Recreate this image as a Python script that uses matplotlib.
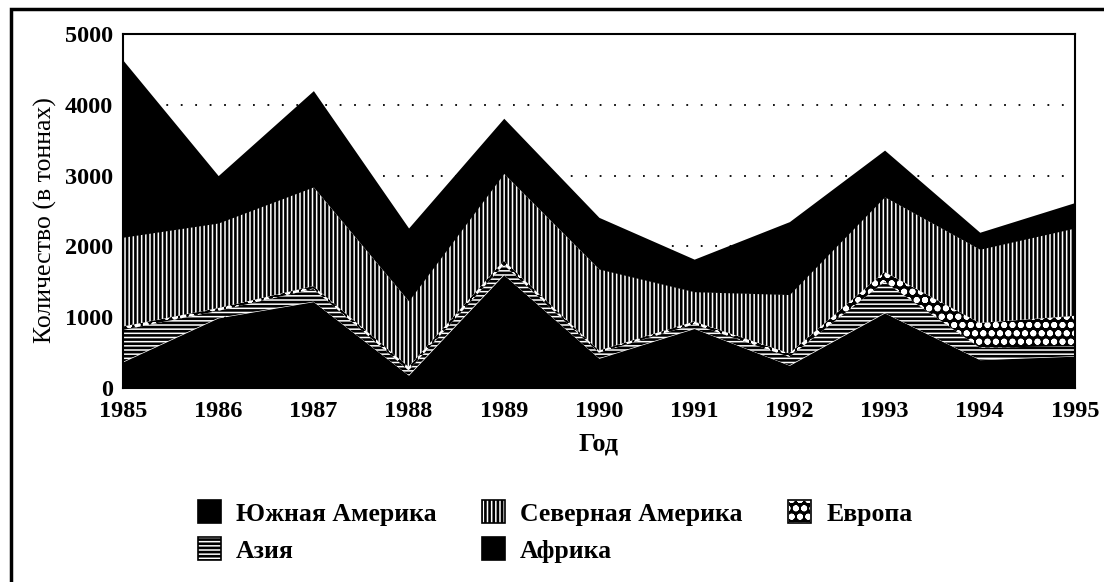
import matplotlib.pyplot as plt
import matplotlib.patches as mpatches
import numpy as np

plt.rcParams['font.family'] = ['Liberation Serif', 'DejaVu Serif']
plt.rcParams['hatch.linewidth'] = 1.9

years = [1985, 1986, 1987, 1988, 1989, 1990, 1991, 1992, 1993, 1994, 1995]
africa = [370, 990, 1220, 180, 1600, 420, 840, 320, 1060, 400, 450]
asia = [450, 100, 180, 70, 140, 80, 60, 120, 440, 170, 140]
europe = [50, 40, 40, 50, 60, 30, 40, 50, 140, 350, 430]
north_america = [1260, 1200, 1400, 930, 1230, 1150, 420, 830, 1060, 1040, 1240]
south_america = [2500, 670, 1360, 1030, 780, 730, 460, 1030, 660, 240, 360]

labels = ["Африка", "Азия", "Европа", "Северная Америка", "Южная Америка"]
faces = ["black", "white", "black", "white", "black"]
edges = ["black", "black", "white", "black", "black"]
hatches = [None, "----", "oo", "||||", None]

fig = plt.figure(figsize=(11.04, 5.82), dpi=100)
ax = fig.add_axes([0.1114, 0.3333, 0.8623, 0.6083])

polys = ax.stackplot(years, africa, asia, europe, north_america, south_america,
                     labels=labels, zorder=2)
for p, fc, ec, h in zip(polys, faces, edges, hatches):
    p.set_facecolor(fc)
    p.set_edgecolor(ec)
    p.set_linewidth(0)
    if h:
        p.set_hatch(h)

ax.set_xlim(1985, 1995)
ax.set_ylim(0, 5000)
ax.set_xticks(years)
ax.set_yticks([0, 1000, 2000, 3000, 4000, 5000])
ax.yaxis.grid(True, color="black", linestyle=(0, (1, 7)), linewidth=1.3, zorder=1)
ax.set_axisbelow(True)
ax.tick_params(length=0, labelsize=17.5)
ax.tick_params(axis="x", pad=9)
ax.tick_params(axis="y", pad=7)
for lbl in ax.get_xticklabels() + ax.get_yticklabels():
    lbl.set_fontweight("bold")
for s in ax.spines.values():
    s.set_linewidth(1.5)
    s.set_zorder(3)

ax.set_xlabel("Год", fontsize=19, fontweight="bold", labelpad=8)
ax.set_ylabel("Количество (в тоннах)", fontsize=18.5)
ax.yaxis.set_label_coords(-0.069, 0.475)

# legend in the original reading order
handles = []
order = [4, 1, 3, 0, 2]
for i in order:
    patch = mpatches.Patch(facecolor=faces[i], edgecolor=edges[i],
                           hatch=hatches[i], linewidth=1.2)
    if edges[i] == "white":
        frame = mpatches.Patch(facecolor="none", edgecolor="black", linewidth=1.2)
        handles.append((patch, frame))
    else:
        handles.append(patch)
fig.legend(handles=handles, labels=[labels[i] for i in order],
           loc="upper left", bbox_to_anchor=(0.158, 0.18),
           ncol=3, frameon=False, prop={"size": 18.5, "weight": "bold"},
           handlelength=0.9, handleheight=1.0, handletextpad=0.6,
           columnspacing=1.75, labelspacing=0.45)

# page frame (top and left edges visible)
fig.add_artist(mpatches.Rectangle((11 / 1104, -0.5), 2, 0.5 + 1 - 9 / 582,
                                  transform=fig.transFigure, fill=False,
                                  edgecolor="black", linewidth=2.5))

fig.savefig("out.png", dpi=100)
